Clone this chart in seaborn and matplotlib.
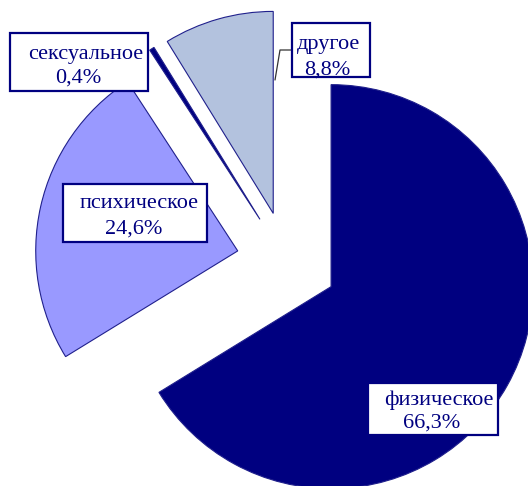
import matplotlib
matplotlib.use("Agg")
import matplotlib.pyplot as plt
from matplotlib.patches import Rectangle
import seaborn as sns

# data
categories = ["физическое", "психическое", "сексуальное", "другое"]
values = [66.3, 24.6, 0.4, 8.8]
value_labels = ["66,3%", "24,6%", "0,4%", "8,8%"]
colors = ["#000080", "#9999FF", "#000080", "#B3C2DE"]

sns.set_theme(style="white")
plt.rcParams["font.family"] = ["Liberation Serif", "DejaVu Serif"]

W, H = 528, 486
CX, CY, R = 287, 262, 202  # pixel layout of the pie


def px(x, y):
    return (x - CX) / R, (CY - y) / R


fig = plt.figure(figsize=(W / 100, H / 100), dpi=100)
ax = fig.add_axes([0, 0, 1, 1])
ax.pie(values, colors=colors, startangle=90, counterclock=False,
       explode=[0.25] * len(values), radius=1,
       wedgeprops=dict(edgecolor="#20208C", linewidth=0.8))
ax.set_xlim(px(0, 0)[0], px(W, 0)[0])
ax.set_ylim(px(0, H)[1], px(0, 0)[1])
ax.set_aspect("equal")
ax.axis("off")

# label boxes (pixel layout): left, top, right, bottom,
# line1 centre x, line1 baseline, line2 centre x, line2 baseline
boxes = {
    "физическое": (368, 383, 498, 435, 438.5, 405, 431.5, 428),
    "психическое": (63, 184, 207, 242, 139.5, 208, 134, 234),
    "сексуальное": (10, 33, 148, 91, 85.5, 59, 78.5, 83),
    "другое": (292, 23, 370, 77, 328.5, 49, 327.5, 75),
}
for cat, vl in zip(categories, value_labels):
    l, t, r, b, x1c, b1, x2c, b2 = boxes[cat]
    x0, y0 = px(l, b)
    xa, ya = px(r, t)
    ax.add_patch(Rectangle((x0, y0), xa - x0, ya - y0, facecolor="white",
                           edgecolor="#000080", linewidth=1.6, zorder=5))
    ax.text(*px(x1c, b1), cat, ha="center", va="baseline",
            fontsize=16, color="#000080", zorder=6)
    ax.text(*px(x2c, b2), vl, ha="center", va="baseline",
            fontsize=16, color="#000080", zorder=6)

# leader line for "другое"
lx, ly = zip(px(292, 50), px(280, 50), px(275, 80))
ax.plot(lx, ly, color="#333333", linewidth=0.9, zorder=4)

fig.savefig("out.png", dpi=100)
